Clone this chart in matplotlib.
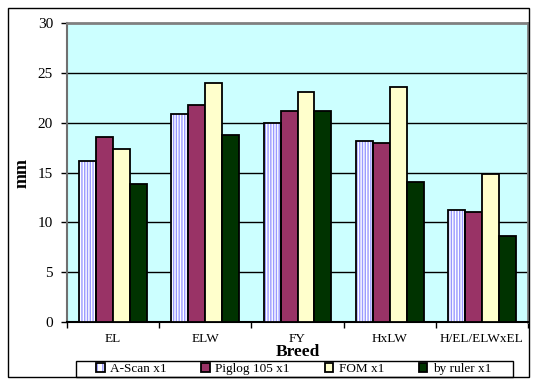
import matplotlib.pyplot as plt
from matplotlib.patches import Patch, Rectangle

breeds = ["EL", "ELW", "FY", "HxLW", "H/EL/ELWxEL"]
series = ["A-Scan x1", "Piglog 105 x1", "FOM x1", "by ruler x1"]
ascan = [16.15, 20.9, 20.0, 18.15, 11.25]
piglog = [18.6, 21.75, 21.15, 18.0, 11.05]
fom = [17.35, 24.0, 23.1, 23.6, 14.85]
ruler = [13.8, 18.75, 21.2, 14.0, 8.65]

plt.rcParams['font.family'] = ['Liberation Serif', 'DejaVu Serif']
plt.rcParams['hatch.linewidth'] = 1.0

fig = plt.figure(figsize=(5.38, 3.84), dpi=100)
ax = fig.add_axes([67 / 538, 1 - 322 / 384, 461 / 538, 299 / 384])
ax.set_facecolor('#ccffff')

w = 0.184
x = list(range(len(breeds)))
colors = ['white', '#993366', '#ffffcc', '#003300']
values = [ascan, piglog, fom, ruler]

for j, vals in enumerate(values):
    pos = [i + (j - 1.5) * w for i in x]
    if j == 0:
        ax.bar(pos, vals, w, color='white', edgecolor='#9999ff', hatch='||||||',
               linewidth=0, zorder=3)
        ax.bar(pos, vals, w, fill=False, edgecolor='black', linewidth=1.3, zorder=4)
    else:
        ax.bar(pos, vals, w, color=colors[j], edgecolor='black', linewidth=1.3, zorder=3)

ax.set_xlim(-0.5, len(breeds) - 0.5)
ax.set_ylim(0, 30)
ax.set_yticks(range(0, 31, 5))
ax.set_yticklabels([str(v) for v in range(0, 31, 5)], fontsize=11)
for v in range(5, 30, 5):
    ax.axhline(v, color='black', linewidth=1, zorder=1)

ax.set_xticks([i - 0.5 for i in range(len(breeds) + 1)])
ax.set_xticklabels([])
ax.set_xticks(x, minor=True)
ax.set_xticklabels(breeds, minor=True, fontsize=9.5)
ax.tick_params(axis='x', which='minor', length=0, pad=8)
ax.tick_params(axis='both', which='major', length=4, width=1, color='black')
ax.tick_params(axis='y', pad=6)

for s in ['top', 'right']:
    ax.spines[s].set_color('#808080')
    ax.spines[s].set_linewidth(2)
ax.spines['left'].set_color('#707070')
ax.spines['left'].set_linewidth(1.5)
ax.spines['bottom'].set_color('black')
ax.spines['bottom'].set_linewidth(1.5)

ax.set_xlabel("Breed", fontsize=12.5, fontweight='bold', labelpad=-1)
ax.set_ylabel("mm", fontsize=13, fontweight='bold', labelpad=5)

handles = [
    (Patch(facecolor='white', edgecolor='#9999ff', hatch='|||', linewidth=0),
     Patch(fill=False, edgecolor='black', linewidth=1.3)),
    Patch(facecolor=colors[1], edgecolor='black', linewidth=1.3),
    Patch(facecolor=colors[2], edgecolor='black', linewidth=1.3),
    Patch(facecolor=colors[3], edgecolor='black', linewidth=1.3),
]
leg = fig.legend(handles, series, loc='lower left', ncol=4, mode='expand',
                 bbox_to_anchor=(94 / 538, 7 / 384, 399 / 538, 16 / 384),
                 fontsize=9.5, frameon=False, borderpad=0.15,
                 handlelength=0.65, handleheight=0.65, handletextpad=0.4,
                 borderaxespad=0)

# legend frame and outer chart border
fig.patches.append(Rectangle((76 / 538, 7 / 384), 437 / 538, 16 / 384,
                             transform=fig.transFigure, fill=False,
                             edgecolor='black', linewidth=1))
fig.patches.append(Rectangle((8 / 538, 7 / 384), 521 / 538, 369 / 384,
                             transform=fig.transFigure, fill=False,
                             edgecolor='black', linewidth=1))

fig.savefig('out.png', dpi=100)
